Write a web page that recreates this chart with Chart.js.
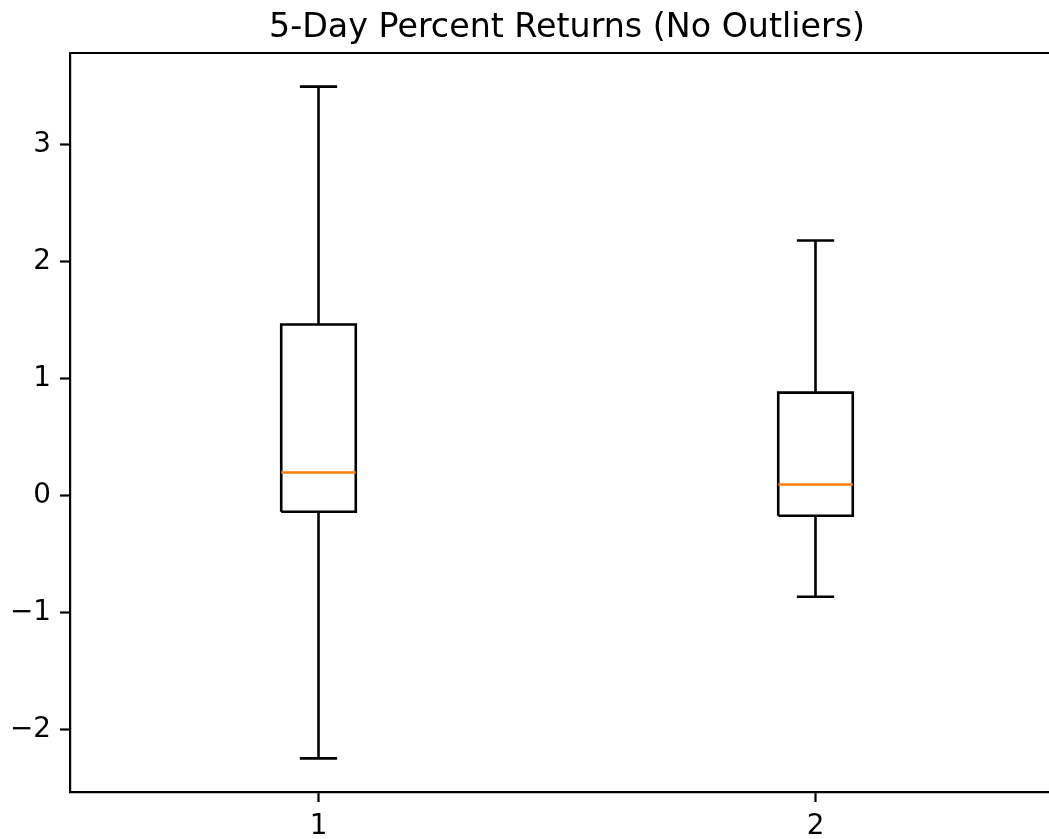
<!DOCTYPE html>
<html>
<head>
<meta charset="utf-8">
<script src="https://cdn.jsdelivr.net/npm/chart.js@4.4.1/dist/chart.umd.min.js"></script>
<style>
  html, body { margin: 0; padding: 0; background: #fff; overflow: hidden; }
  #wrap { width: 1049px; height: 839px; overflow: hidden; }
</style>
</head>
<body>
<div id="wrap"><canvas id="c" width="1080" height="839"></canvas></div>
<script>
// ---- data ----
const categories  = ['1', '2'];
const positions   = [1, 2];
const whiskerLow  = [-2.245, -0.863];
const q1          = [-0.137, -0.171];
const median      = [0.199, 0.096];
const q3          = [1.464, 0.881];
const whiskerHigh = [3.497, 2.181];
const yTicks      = [-2, -1, 0, 1, 2, 3];
const titleText   = '5-Day Percent Returns (No Outliers)';

// ---- styling ----
const BOX_HALF = 0.075;
const CAP_HALF = 0.0375;
const LINE_W = 2.6;
const FONT = 'DejaVu Sans';

const datasets = [];
function seg(points, color, order, width) {
  datasets.push({
    data: points, showLine: true, borderColor: color, backgroundColor: color,
    borderWidth: width, pointRadius: 0, pointHoverRadius: 0, fill: false,
    tension: 0, order: order, clip: false
  });
}
positions.forEach((p, i) => {
  seg([{x: p - BOX_HALF, y: q1[i]}, {x: p + BOX_HALF, y: q1[i]}, {x: p + BOX_HALF, y: q3[i]},
       {x: p - BOX_HALF, y: q3[i]}, {x: p - BOX_HALF, y: q1[i]}], '#000', 2, LINE_W);
  seg([{x: p, y: q1[i]}, {x: p, y: whiskerLow[i]}], '#000', 2, LINE_W);
  seg([{x: p, y: q3[i]}, {x: p, y: whiskerHigh[i]}], '#000', 2, LINE_W);
  seg([{x: p - CAP_HALF, y: whiskerLow[i]}, {x: p + CAP_HALF, y: whiskerLow[i]}], '#000', 2, LINE_W);
  seg([{x: p - CAP_HALF, y: whiskerHigh[i]}, {x: p + CAP_HALF, y: whiskerHigh[i]}], '#000', 2, LINE_W);
  seg([{x: p - BOX_HALF, y: median[i]}, {x: p + BOX_HALF, y: median[i]}], '#ff7f0e', 1, 2.4);
});

const lo = Math.min(...whiskerLow), hi = Math.max(...whiskerHigh);
const marg = 0.05 * (hi - lo);

const frame = {
  id: 'frame',
  afterDraw(chart) {
    const a = chart.chartArea, ctx = chart.ctx;
    ctx.save();
    ctx.strokeStyle = '#000';
    ctx.lineWidth = 2.2;
    ctx.beginPath();
    ctx.moveTo(a.left, a.top); ctx.lineTo(a.right, a.top);
    ctx.lineTo(a.right, a.bottom);
    ctx.stroke();
    ctx.fillStyle = '#000';
    ctx.font = '33.3px "' + FONT + '"';
    ctx.textAlign = 'center';
    ctx.textBaseline = 'alphabetic';
    ctx.fillText(titleText, (a.left + a.right) / 2, a.top - 16.5);
    ctx.restore();
  }
};

new Chart(document.getElementById('c'), {
  type: 'scatter',
  data: { datasets },
  plugins: [frame],
  options: {
    responsive: false,
    animation: false,
    devicePixelRatio: 1,
    layout: { padding: { left: 0, right: 16, top: 53, bottom: 0 } },
    plugins: {
      legend: { display: false },
      tooltip: { enabled: false },
      title: { display: false }
    },
    scales: {
      x: {
        type: 'linear', min: 0.5, max: 2.5,
        afterFit(s) { s.height = 47; },
        afterBuildTicks(s) { s.ticks = positions.map(v => ({ value: v })); },
        ticks: {
          color: '#000', padding: 8, maxRotation: 0,
          font: { family: FONT, size: 27.8 },
          callback: (v) => { const k = positions.indexOf(v); return k >= 0 ? categories[k] : ''; }
        },
        grid: { drawOnChartArea: false, drawTicks: true, tickLength: 10, color: '#000', tickWidth: 2.2 },
        border: { display: true, color: '#000', width: 2.2 }
      },
      y: {
        type: 'linear', min: lo - marg, max: hi + marg,
        afterFit(s) { s.width = 70; },
        afterBuildTicks(s) { s.ticks = yTicks.map(v => ({ value: v })); },
        ticks: {
          color: '#000', padding: 9,
          font: { family: FONT, size: 27.8 },
          callback: (v) => String(v).replace('-', '\u2212')
        },
        grid: { drawOnChartArea: false, drawTicks: true, tickLength: 10, color: '#000', tickWidth: 2.2 },
        border: { display: true, color: '#000', width: 2.2 }
      }
    }
  }
});
</script>
</body>
</html>
